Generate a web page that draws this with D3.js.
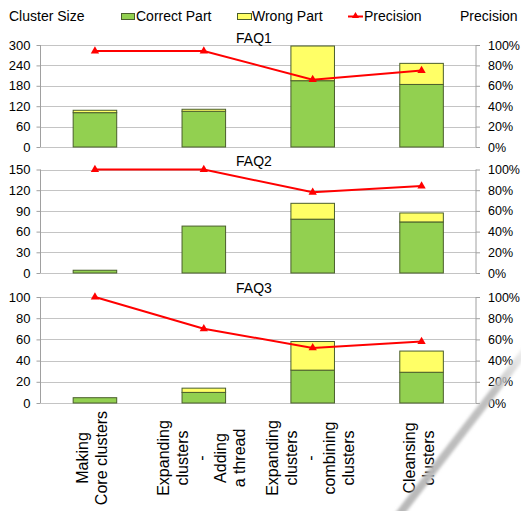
<!DOCTYPE html>
<html>
<head>
<meta charset="utf-8">
<script src="https://cdn.jsdelivr.net/npm/d3@7"></script>
<style>
  html, body { margin: 0; padding: 0; background: #fff; }
  svg { display: block; font-family: "Liberation Sans", Arial, sans-serif; }
</style>
</head>
<body>
<svg id="chart" width="521" height="511"></svg>
<script>
// Clustering stages (x axis), one line per label row
const stages = [
  ["Making", "Core clusters"],
  ["Expanding", "clusters", "-", "Adding", "a thread"],
  ["Expanding", "clusters", "-", "combining", "clusters"],
  ["Cleansing", "clusters"]
];

// FAQ panels
const panelNames = ["FAQ1", "FAQ2", "FAQ3"];
const correctFAQ1 = [101, 105, 195, 184];
const wrongFAQ1   = [7, 6, 102, 62];
const precFAQ1    = [0.94, 0.94, 0.66, 0.75];

const correctFAQ2 = [4, 68, 78, 74];
const wrongFAQ2   = [0, 0, 23, 13];
const precFAQ2    = [1.0, 1.0, 0.78, 0.84];

const correctFAQ3 = [5, 10, 31, 29];
const wrongFAQ3   = [0, 4, 27, 20];
const precFAQ3    = [1.0, 0.70, 0.52, 0.58];

// Left axis maxima and tick steps per panel
const sizeMax  = [300, 150, 100];
const sizeStep = [60, 30, 20];
const precTicks = [0, 0.2, 0.4, 0.6, 0.8, 1.0];

const legendItems = ["Correct Part", "Wrong Part", "Precision"];

const GREEN = "#92d050", YELLOW = "#ffff66", RED = "#ff0000";
const BAR_STROKE = "#4a5e2c", GRID = "#c4c4c4", AXIS = "#a0a0a0";

const svg = d3.select("#chart");

// soft gray streak in the lower right corner
const defs = svg.append("defs");
defs.append("filter").attr("id", "soft")
  .attr("x", "-20%").attr("y", "-20%").attr("width", "140%").attr("height", "140%")
  .append("feGaussianBlur").attr("stdDeviation", 1.8);
const grad = defs.append("linearGradient").attr("id", "streak")
  .attr("gradientUnits", "userSpaceOnUse")
  .attr("x1", 398).attr("y1", 514).attr("x2", 526).attr("y2", 348);
grad.append("stop").attr("offset", 0).attr("stop-color", "#b8b8b8").attr("stop-opacity", 1);
grad.append("stop").attr("offset", 0.75).attr("stop-color", "#bdbdbd").attr("stop-opacity", 0.95);
grad.append("stop").attr("offset", 1).attr("stop-color", "#d0d0d0").attr("stop-opacity", 0.3);

const plotLeft = 40.5, plotRight = 476;
const x = d3.scaleBand()
  .domain(d3.range(stages.length))
  .range([plotLeft, plotRight])
  .paddingInner(0.6)
  .paddingOuter(0.3);

const panels = [
  { name: panelNames[0], correct: correctFAQ1, wrong: wrongFAQ1, prec: precFAQ1, top: 45,    bottom: 147 },
  { name: panelNames[1], correct: correctFAQ2, wrong: wrongFAQ2, prec: precFAQ2, top: 169.5, bottom: 273 },
  { name: panelNames[2], correct: correctFAQ3, wrong: wrongFAQ3, prec: precFAQ3, top: 297,   bottom: 403 }
];

const titleGap = [2, 4, 4];

panels.forEach((p, i) => {
  const y = d3.scaleLinear().domain([0, sizeMax[i]]).range([p.bottom, p.top]);
  const yp = d3.scaleLinear().domain([0, 1]).range([p.bottom, p.top]);
  const ticks = d3.range(0, sizeMax[i] + 0.001, sizeStep[i]);
  const g = svg.append("g");

  // gridlines
  g.append("g").selectAll("line").data(ticks).join("line")
    .attr("x1", plotLeft).attr("x2", plotRight)
    .attr("y1", d => Math.round(y(d)) + 0.5).attr("y2", d => Math.round(y(d)) + 0.5)
    .attr("stroke", GRID).attr("stroke-width", 1);

  // left axis
  const la = g.append("g").attr("transform", `translate(${plotLeft},0)`)
    .call(d3.axisLeft(y).tickValues(ticks).tickSize(4).tickPadding(6));
  la.select(".domain").attr("stroke", AXIS).attr("d", `M0,${p.top}V${p.bottom}`);
  la.selectAll(".tick line").attr("stroke", AXIS);
  la.selectAll("text").attr("font-size", 13).attr("fill", "#000")
    .attr("font-family", "Liberation Sans, Arial, sans-serif");

  // right axis
  const ra = g.append("g").attr("transform", `translate(${plotRight},0)`)
    .call(d3.axisRight(yp).tickValues(precTicks).tickSize(4).tickPadding(8)
      .tickFormat(d3.format(".0%")));
  ra.select(".domain").attr("stroke", AXIS).attr("d", `M0,${p.top}V${p.bottom}`);
  ra.selectAll(".tick line").attr("stroke", AXIS);
  ra.selectAll("text").attr("font-size", 12.5).attr("fill", "#000")
    .attr("font-family", "Liberation Sans, Arial, sans-serif");

  // stacked bars: correct part below, wrong part on top
  const bw = x.bandwidth();
  g.append("g").selectAll("rect").data(p.correct).join("rect")
    .attr("x", (d, k) => x(k)).attr("width", bw)
    .attr("y", d => y(d)).attr("height", d => y(0) - y(d))
    .attr("fill", GREEN).attr("stroke", BAR_STROKE).attr("stroke-width", 1);
  g.append("g").selectAll("rect")
    .data(p.wrong.map((w, k) => ({ k, w, c: p.correct[k] })).filter(d => d.w > 0))
    .join("rect")
    .attr("x", d => x(d.k)).attr("width", bw)
    .attr("y", d => y(d.c + d.w)).attr("height", d => y(d.c) - y(d.c + d.w))
    .attr("fill", YELLOW).attr("stroke", BAR_STROKE).attr("stroke-width", 1);

  // precision line with triangle markers
  const cx = k => x(k) + bw / 2;
  g.append("path").datum(p.prec)
    .attr("d", d3.line().x((d, k) => cx(k)).y(d => yp(d)))
    .attr("fill", "none").attr("stroke", RED).attr("stroke-width", 2);
  g.append("g").selectAll("path").data(p.prec).join("path")
    .attr("transform", (d, k) => `translate(${cx(k)},${yp(d)})`)
    .attr("d", d3.symbol(d3.symbolTriangle, 30))
    .attr("fill", RED);

  // panel title
  g.append("text").attr("x", 254).attr("y", p.top - titleGap[i])
    .attr("text-anchor", "middle").attr("font-size", 14).text(p.name);
});

// x-axis stage labels, rotated
const lineH = 19;
const labels = svg.append("g");
stages.forEach((lines, k) => {
  const cx = x(k) + x.bandwidth() / 2 + 3;
  const n = lines.length;
  lines.forEach((t, j) => {
    const bx = cx + (j - (n - 1) / 2) * lineH;
    labels.append("text")
      .attr("transform", `translate(${bx},458) rotate(-90)`)
      .attr("text-anchor", "middle")
      .attr("font-size", 16)
      .text(t);
  });
});

// legend
const lg = svg.append("g").attr("font-size", 14);
lg.append("text").attr("x", 9).attr("y", 21).text("Cluster Size");
lg.append("rect").attr("x", 121.5).attr("y", 13.5).attr("width", 13).attr("height", 6)
  .attr("fill", GREEN).attr("stroke", BAR_STROKE);
lg.append("text").attr("x", 136).attr("y", 21).text(legendItems[0]);
lg.append("rect").attr("x", 237.5).attr("y", 13.5).attr("width", 14).attr("height", 6)
  .attr("fill", YELLOW).attr("stroke", BAR_STROKE);
lg.append("text").attr("x", 252).attr("y", 21).text(legendItems[1]);
lg.append("line").attr("x1", 348).attr("x2", 363).attr("y1", 16.5).attr("y2", 16.5)
  .attr("stroke", RED).attr("stroke-width", 2);
lg.append("path").attr("transform", "translate(355.5,16)")
  .attr("d", d3.symbol(d3.symbolTriangle, 22)).attr("fill", RED);
lg.append("text").attr("x", 364).attr("y", 21).text(legendItems[2]);
lg.append("text").attr("x", 460).attr("y", 21).text("Precision");

// streak
svg.append("line")
  .attr("x1", 398).attr("y1", 516).attr("x2", 526).attr("y2", 350)
  .attr("stroke", "url(#streak)").attr("stroke-width", 8)
  .attr("filter", "url(#soft)");
</script>
</body>
</html>
